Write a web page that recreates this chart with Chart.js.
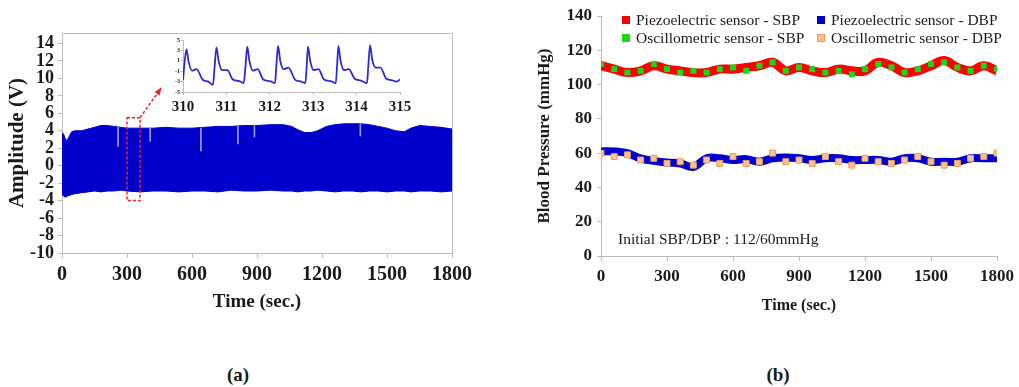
<!DOCTYPE html>
<html><head><meta charset="utf-8">
<script src="https://cdn.jsdelivr.net/npm/chart.js@4.4.1/dist/chart.umd.min.js"></script>
<style>
html,body{margin:0;padding:0;background:#fff;}
#wrap{position:relative;width:1019px;height:387px;overflow:hidden;font-family:'Liberation Serif',serif;color:#1a1a1a;}
.box{position:absolute;}
.lg{position:absolute;display:flex;align-items:center;font-size:15.5px;white-space:nowrap;height:16px;line-height:16px;}
.lg i{display:inline-block;width:8px;height:8px;margin-right:6px;box-sizing:border-box;}
.plab{position:absolute;font-weight:bold;font-size:19px;transform:translate(-50%,-50%);}
</style></head><body>
<div id="wrap">
  <div class="box" style="left:0;top:0;width:510px;height:330px"><canvas id="ca"></canvas></div>
  <div class="box" style="left:150px;top:30px;width:265px;height:90px"><canvas id="ci"></canvas></div>
  <div class="box" style="left:510px;top:0;width:509px;height:330px"><canvas id="cb"></canvas></div>
  <div id="legendB"></div>
  <div class="plab" style="left:238px;top:375px">(a)</div>
  <div class="plab" style="left:778px;top:375px">(b)</div>
</div>
<script>
// ---------- Panel (a): raw signal envelope ----------
const ampTime  = [0, 8, 16, 24, 32, 45, 60, 90, 120, 150, 180, 210, 240, 270, 300, 360, 420, 480, 540, 600, 660, 720, 780, 840, 900, 960, 1020, 1060, 1090, 1120, 1150, 1180, 1220, 1260, 1300, 1340, 1380, 1420, 1460, 1500, 1540, 1580, 1610, 1650, 1700, 1750, 1800];
const ampUpper = [3.8, 3.6, 3.0, 2.9, 3.3, 3.9, 4.0, 4.0, 4.2, 4.4, 4.6, 4.6, 4.5, 4.4, 4.3, 4.3, 4.3, 4.4, 4.3, 4.3, 4.4, 4.5, 4.5, 4.6, 4.6, 4.7, 4.7, 4.5, 4.1, 3.8, 3.8, 4.0, 4.5, 4.7, 4.8, 4.8, 4.8, 4.7, 4.5, 4.3, 4.0, 3.9, 4.3, 4.6, 4.5, 4.4, 4.2];
const ampLower = [-3.3, -3.5, -3.6, -3.5, -3.4, -3.3, -3.2, -3.1, -3.0, -2.9, -3.0, -2.9, -2.9, -2.8, -2.9, -3.0, -2.9, -2.9, -3.0, -2.9, -2.9, -3.0, -2.8, -2.9, -2.9, -2.8, -2.9, -2.9, -3.0, -2.9, -2.9, -2.8, -2.9, -3.0, -2.9, -2.9, -3.0, -2.9, -2.9, -3.0, -2.9, -2.9, -3.0, -2.9, -2.9, -3.0, -2.9];
const dropTime = [259, 407, 641, 812, 888, 1377];
const dropLow  = [2.2, 2.8, 1.7, 2.5, 3.3, 3.4];
const dropHigh = [4.4, 4.3, 4.3, 4.5, 4.6, 4.8];
const aYTicks  = [-10, -8, -6, -4, -2, 0, 2, 4, 6, 8, 10, 12, 14];
const zoomWindow = [300, 360];
const zoomRange  = [-4, 5.5];
const calloutEnd = [455, 8.8];

// ---------- Inset: 310–315 s ----------
const insetTime = [310.00,310.04,310.08,310.13,310.21,310.31,310.46,310.58,310.69,310.73,310.77,310.82,310.90,311.02,311.15,311.30,311.40,311.44,311.48,311.53,311.61,311.72,311.85,312.00,312.12,312.15,312.19,312.24,312.32,312.43,312.58,312.72,312.82,312.85,312.88,312.93,313.01,313.12,313.25,313.40,313.52,313.55,313.58,313.63,313.71,313.82,313.95,314.10,314.24,314.27,314.31,314.36,314.44,314.55,314.68,314.80,314.92,315.00];
const insetAmp  = [-2.7,1.0,3.2,0.8,-0.9,-0.6,-2.7,-3.0,-3.6,0.0,3.6,1.0,-0.8,-0.8,-2.6,-2.9,-3.3,0.0,3.7,1.0,-0.9,-0.6,-2.6,-2.9,-3.3,0.0,3.85,1.0,-0.6,-0.3,-2.6,-3.0,-3.3,0.0,3.7,1.0,-0.8,-0.6,-2.6,-2.9,-3.3,0.0,3.85,1.0,-0.8,-0.6,-2.4,-2.8,-3.3,0.0,4.0,1.2,-0.3,-0.3,-2.4,-2.7,-3.0,-2.6];
const insetYTicks = [-5, -3, -1, 1, 3, 5];

// ---------- Panel (b): blood pressure ----------
const bpTime   = [0,60,120,180,240,300,360,420,480,540,600,660,720,780,840,900,960,1020,1080,1140,1200,1260,1320,1380,1440,1500,1560,1620,1680,1740,1800];
const piezoSBP = [111,109,107,108,111,109,108,107,107,109,109,110,111,113,108,110,108,107,109,108,108,113,111,107,108,111,114,110,108,111,108];
const piezoDBP = [61,61,60,57,55.5,54.5,54,52,57,57,56,56.5,55,57,57.5,57,56,57,57,56,56,56,55,57,57,55,55,55,57,57,57];
const oscSBP   = [112,109,107,108,112,109,107,108,107,109,110,108,111,113,108,110,109,107,108,106,109,112,110,107,109,112,113,110,108,111,109];
const oscDBP   = [60,58,59,56,57,54,55,53,56,54,58,54,55,60,55,56,54,58,55,53,57,55,54,56,58,55,53,54,57,58,60];
const bpLabels = ['Piezoelectric sensor - SBP','Piezoelectric sensor - DBP','Oscillometric sensor - SBP','Oscillometric sensor - DBP'];
const initialNote = 'Initial SBP/DBP : 112/60mmHg';

const SERIF = "'Liberation Serif', 'Times New Roman', serif";
const TXT = '#1a1a1a';
const AX = '#bdbdbd';
const BAND = '#0000cc';
const xy = (xs, ys) => xs.map((x, i) => ({x, y: ys[i]}));
const f = (size, weight) => ({family: SERIF, size, weight: weight || 'bold'});
const plain = v => String(v);

// plugins
const frameA = {
  id: 'frameA',
  beforeDatasetsDraw(c) {
    const {left, top, right, bottom} = c.chartArea, ctx = c.ctx;
    ctx.save(); ctx.strokeStyle = AX; ctx.lineWidth = 1;
    ctx.strokeRect(left + 0.5, top + 0.5, right - left, bottom - top);
    ctx.restore();
  }
};
const zoomMark = {
  id: 'zoomMark',
  afterDatasetsDraw(c) {
    const x = c.scales.x, y = c.scales.y, ctx = c.ctx;
    const x0 = x.getPixelForValue(zoomWindow[0]), x1 = x.getPixelForValue(zoomWindow[1]);
    const y0 = y.getPixelForValue(zoomRange[1]), y1 = y.getPixelForValue(zoomRange[0]);
    const ax = x.getPixelForValue(calloutEnd[0]), ay = y.getPixelForValue(calloutEnd[1]);
    ctx.save();
    ctx.strokeStyle = '#ff1a1a'; ctx.fillStyle = '#ff1a1a'; ctx.lineWidth = 1.5; ctx.setLineDash([3, 2]);
    ctx.strokeRect(x0, y0, x1 - x0, y1 - y0);
    ctx.beginPath(); ctx.moveTo(x1, y0); ctx.lineTo(ax, ay); ctx.stroke();
    ctx.setLineDash([]);
    const ang = Math.atan2(ay - y0, ax - x1), L = 6, W = 3;
    ctx.beginPath();
    ctx.moveTo(ax + Math.cos(ang) * 2, ay + Math.sin(ang) * 2);
    ctx.lineTo(ax - Math.cos(ang) * L + Math.sin(ang) * W, ay - Math.sin(ang) * L - Math.cos(ang) * W);
    ctx.lineTo(ax - Math.cos(ang) * L - Math.sin(ang) * W, ay - Math.sin(ang) * L + Math.cos(ang) * W);
    ctx.closePath(); ctx.fill();
    ctx.restore();
  }
};
const noteB = {
  id: 'noteB',
  afterDatasetsDraw(c) {
    const ctx = c.ctx;
    ctx.save(); ctx.font = "15.5px " + SERIF; ctx.fillStyle = TXT; ctx.textBaseline = 'middle';
    ctx.fillText(initialNote, c.chartArea.left + 17, c.scales.y.getPixelForValue(9.5));
    ctx.restore();
  }
};

// ---------- Chart (a) ----------
new Chart(document.getElementById('ca'), {
  type: 'line',
  data: {datasets: [
    {label: 'upper', data: xy(ampTime, ampUpper), borderColor: BAND, backgroundColor: BAND, borderWidth: 1, pointRadius: 0, fill: '+1', tension: 0},
    {label: 'lower', data: xy(ampTime, ampLower), borderColor: BAND, borderWidth: 1, pointRadius: 0, fill: false, tension: 0},
    {type: 'bar', label: 'dropouts', data: dropTime.map((t, i) => ({x: t, y: [dropLow[i], dropHigh[i]]})), backgroundColor: '#9a9ae6', barThickness: 1, order: -1}
  ]},
  options: {
    responsive: true, maintainAspectRatio: false, animation: false,
    layout: {padding: {left: 0, top: 33, right: 58, bottom: 0}},
    plugins: {legend: {display: false}, tooltip: {enabled: false}},
    scales: {
      x: {type: 'linear', min: 0, max: 1800, offset: false,
          ticks: {stepSize: 300, font: f(20), color: TXT, padding: 5, maxRotation: 0, callback: plain},
          grid: {drawOnChartArea: false, tickLength: 5, color: AX, offset: false}, border: {color: AX},
          title: {display: true, text: 'Time (sec.)', font: f(19), color: TXT, padding: {top: 0, bottom: 17}},
          afterFit(s) { s.height = 77; }},
      y: {type: 'linear', min: -10, max: 15.2,
          afterBuildTicks(s) { s.ticks = aYTicks.map(v => ({value: v})); },
          ticks: {font: f(18), color: TXT, padding: 4, autoSkip: false, callback: plain},
          grid: {drawOnChartArea: false, tickLength: 4, color: AX}, border: {color: AX},
          title: {display: true, text: 'Amplitude (V)', font: f(21), color: TXT, padding: {top: 5, bottom: 0}},
          afterFit(s) { s.width = 62; }}
    }
  },
  plugins: [frameA, zoomMark]
});

// ---------- Inset ----------
new Chart(document.getElementById('ci'), {
  type: 'line',
  data: {datasets: [
    {label: 'inset', data: xy(insetTime, insetAmp), borderColor: '#2b2bd6', borderWidth: 1.8, pointRadius: 0, fill: false, cubicInterpolationMode: 'monotone'}
  ]},
  options: {
    responsive: true, maintainAspectRatio: false, animation: false,
    layout: {padding: {left: 0, top: 10, right: 15, bottom: 0}},
    plugins: {legend: {display: false}, tooltip: {enabled: false}},
    scales: {
      x: {type: 'linear', min: 310, max: 315,
          ticks: {stepSize: 1, font: f(15), color: TXT, padding: 3, maxRotation: 0, callback: plain},
          grid: {drawOnChartArea: false, tickLength: 3, color: AX}, border: {color: AX},
          afterFit(s) { s.height = 28; }},
      y: {type: 'linear', min: -5, max: 5,
          afterBuildTicks(s) { s.ticks = insetYTicks.map(v => ({value: v})); },
          ticks: {font: f(6), color: TXT, padding: 1, autoSkip: false, callback: plain},
          grid: {drawOnChartArea: false, tickLength: 2, color: AX}, border: {color: AX},
          afterFit(s) { s.width = 33; }}
    }
  }
});

// ---------- Chart (b) ----------
const RED = '#ff0000', BLUE = '#0000d0', GREEN = '#14dc14', ORF = '#f9c393', ORB = '#ef9a55';
const chartB = new Chart(document.getElementById('cb'), {
  type: 'line',
  data: {datasets: [
    {label: bpLabels[0], data: xy(bpTime, piezoSBP), borderColor: RED, backgroundColor: RED, borderWidth: 9, pointRadius: 0, tension: 0.4, order: 3},
    {label: bpLabels[1], data: xy(bpTime, piezoDBP), borderColor: BLUE, backgroundColor: BLUE, borderWidth: 8, pointRadius: 0, tension: 0.4, order: 2},
    {label: bpLabels[2], data: xy(bpTime, oscSBP), showLine: false, pointStyle: 'rect', pointRadius: 4.2, pointBackgroundColor: GREEN, pointBorderColor: GREEN, pointBorderWidth: 0, backgroundColor: GREEN, order: 1},
    {label: bpLabels[3], data: xy(bpTime, oscDBP), showLine: false, pointStyle: 'rect', pointRadius: 4.2, pointBackgroundColor: ORF, pointBorderColor: ORB, pointBorderWidth: 1, backgroundColor: ORF, order: 0}
  ]},
  options: {
    responsive: true, maintainAspectRatio: false, animation: false,
    layout: {padding: {left: 0, top: 16, right: 22, bottom: 0}},
    plugins: {legend: {display: false}, tooltip: {enabled: false}},
    scales: {
      x: {type: 'linear', min: 0, max: 1800,
          ticks: {stepSize: 300, font: f(17), color: TXT, padding: 5, maxRotation: 0, callback: plain},
          grid: {drawOnChartArea: false, tickLength: 5, color: AX}, border: {color: AX},
          title: {display: true, text: 'Time (sec.)', font: f(16), color: TXT, padding: {top: 0, bottom: 15}},
          afterFit(s) { s.height = 74; }},
      y: {type: 'linear', min: 0, max: 140,
          ticks: {stepSize: 20, font: f(17), color: TXT, padding: 5, callback: plain},
          grid: {drawOnChartArea: false, tickLength: 4, color: AX}, border: {color: AX},
          title: {display: true, text: 'Blood Pressure (mmHg)', font: f(17), color: TXT, padding: {top: 24, bottom: 0}},
          afterFit(s) { s.width = 91; }}
    }
  },
  plugins: [noteB]
});

// HTML legend built from chart (b) datasets
const lg = document.getElementById('legendB');
chartB.data.datasets.forEach((d, i) => {
  const item = document.createElement('div');
  item.className = 'lg';
  item.style.left = (622 + (i % 2) * 195) + 'px';
  item.style.top = (12 + Math.floor(i / 2) * 18) + 'px';
  const sw = document.createElement('i');
  const fill = d.showLine === false ? d.pointBackgroundColor : d.borderColor;
  sw.style.background = fill;
  if (d.showLine === false && d.pointBorderWidth) sw.style.border = '1px solid ' + d.pointBorderColor;
  item.appendChild(sw);
  item.appendChild(document.createTextNode(d.label));
  lg.appendChild(item);
});
</script>
</body></html>
